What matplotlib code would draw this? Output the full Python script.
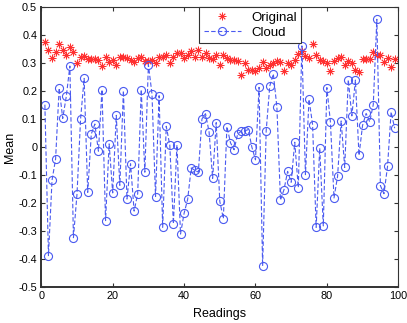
import numpy as np
import matplotlib
matplotlib.use('Agg')
import matplotlib.pyplot as plt

plt.rcParams['font.family'] = ['Liberation Sans', 'DejaVu Sans']

# readings 1..99
readings = list(range(1, 100))

original = [0.375, 0.345, 0.318, 0.339, 0.369, 0.345, 0.330, 0.356, 0.338, 0.301,
            0.320, 0.324, 0.314, 0.314, 0.314, 0.312, 0.289, 0.320, 0.304, 0.312,
            0.293, 0.321, 0.323, 0.318, 0.312, 0.304, 0.318, 0.321, 0.308, 0.306,
            0.310, 0.300, 0.320, 0.322, 0.327, 0.299, 0.321, 0.336, 0.336, 0.318,
            0.330, 0.342, 0.320, 0.348, 0.321, 0.336, 0.318, 0.315, 0.330, 0.294,
            0.330, 0.318, 0.312, 0.310, 0.306, 0.256, 0.299, 0.276, 0.275, 0.270,
            0.282, 0.302, 0.282, 0.294, 0.300, 0.306, 0.304, 0.270, 0.300, 0.294,
            0.312, 0.332, 0.342, 0.324, 0.318, 0.368, 0.330, 0.312, 0.306, 0.300,
            0.273, 0.306, 0.318, 0.320, 0.294, 0.308, 0.300, 0.276, 0.267, 0.315,
            0.315, 0.315, 0.339, 0.330, 0.330, 0.304, 0.318, 0.286, 0.314]

cloud = [0.151, -0.388, -0.119, -0.043, 0.210, 0.102, 0.181, 0.289, -0.324, -0.168,
         0.100, 0.245, -0.162, 0.046, 0.082, -0.015, 0.205, -0.263, 0.011, -0.164,
         0.113, -0.137, 0.201, -0.186, -0.060, -0.229, -0.167, 0.205, -0.090, 0.294,
         0.190, -0.177, 0.183, -0.287, 0.074, 0.006, -0.274, 0.007, -0.311, -0.237,
         -0.187, -0.075, -0.083, -0.090, 0.100, 0.119, 0.054, -0.112, 0.087, -0.194,
         -0.256, 0.073, 0.015, -0.010, 0.046, 0.056, 0.058, 0.062, -0.001, -0.046,
         0.213, -0.425, 0.058, 0.217, 0.261, 0.143, -0.190, -0.152, -0.087, -0.126,
         0.017, -0.145, 0.361, -0.099, 0.170, 0.080, -0.287, -0.004, -0.282, 0.212,
         0.089, -0.182, -0.105, 0.093, -0.073, 0.240, 0.111, 0.239, -0.030, 0.077,
         0.120, 0.090, 0.151, 0.456, -0.138, -0.167, -0.069, 0.125, 0.067]

fig = plt.figure(figsize=(4.07, 3.23), dpi=100)
ax = fig.add_axes([0.1015, 0.1115, 0.877, 0.8669])

ax.plot(readings, original, linestyle='none', marker=(8, 2, 0), markersize=5.5,
        markeredgewidth=0.6, color='#ff3030', label='Original')
ax.plot(readings, cloud, linestyle='--', dashes=(4, 2), linewidth=0.8, color='#4a5af0',
        marker='o', markersize=5.8, markerfacecolor='none', markeredgewidth=0.8,
        label='Cloud')

ax.set_xlim(0, 100)
ax.set_ylim(-0.5, 0.5)
ax.set_xticks(np.arange(0, 101, 20))
ax.set_yticks(np.round(np.arange(-0.5, 0.51, 0.1), 1))
ax.set_yticklabels(['-0.5', '-0.4', '-0.3', '-0.2', '-0.1', '0', '0.1', '0.2', '0.3', '0.4', '0.5'])
ax.tick_params(direction='in', top=True, right=True, labelsize=7.8, length=3,
               color='#333333', pad=3)
for s in ax.spines.values():
    s.set_color('#333333')
    s.set_linewidth(0.8)
ax.spines['left'].set_linewidth(1.4)
ax.spines['bottom'].set_linewidth(1.4)

ax.set_xlabel('Readings', fontsize=9, labelpad=5)
ax.set_ylabel('Mean', fontsize=9, labelpad=2)

leg = ax.legend(loc='upper left', bbox_to_anchor=(0.442, 1.0), borderaxespad=0,
                fancybox=False, edgecolor='#333333', framealpha=1, fontsize=9.5,
                handlelength=2.8, borderpad=0.35, labelspacing=0.2)
leg.get_frame().set_linewidth(0.8)

fig.savefig('out.png', dpi=100)
